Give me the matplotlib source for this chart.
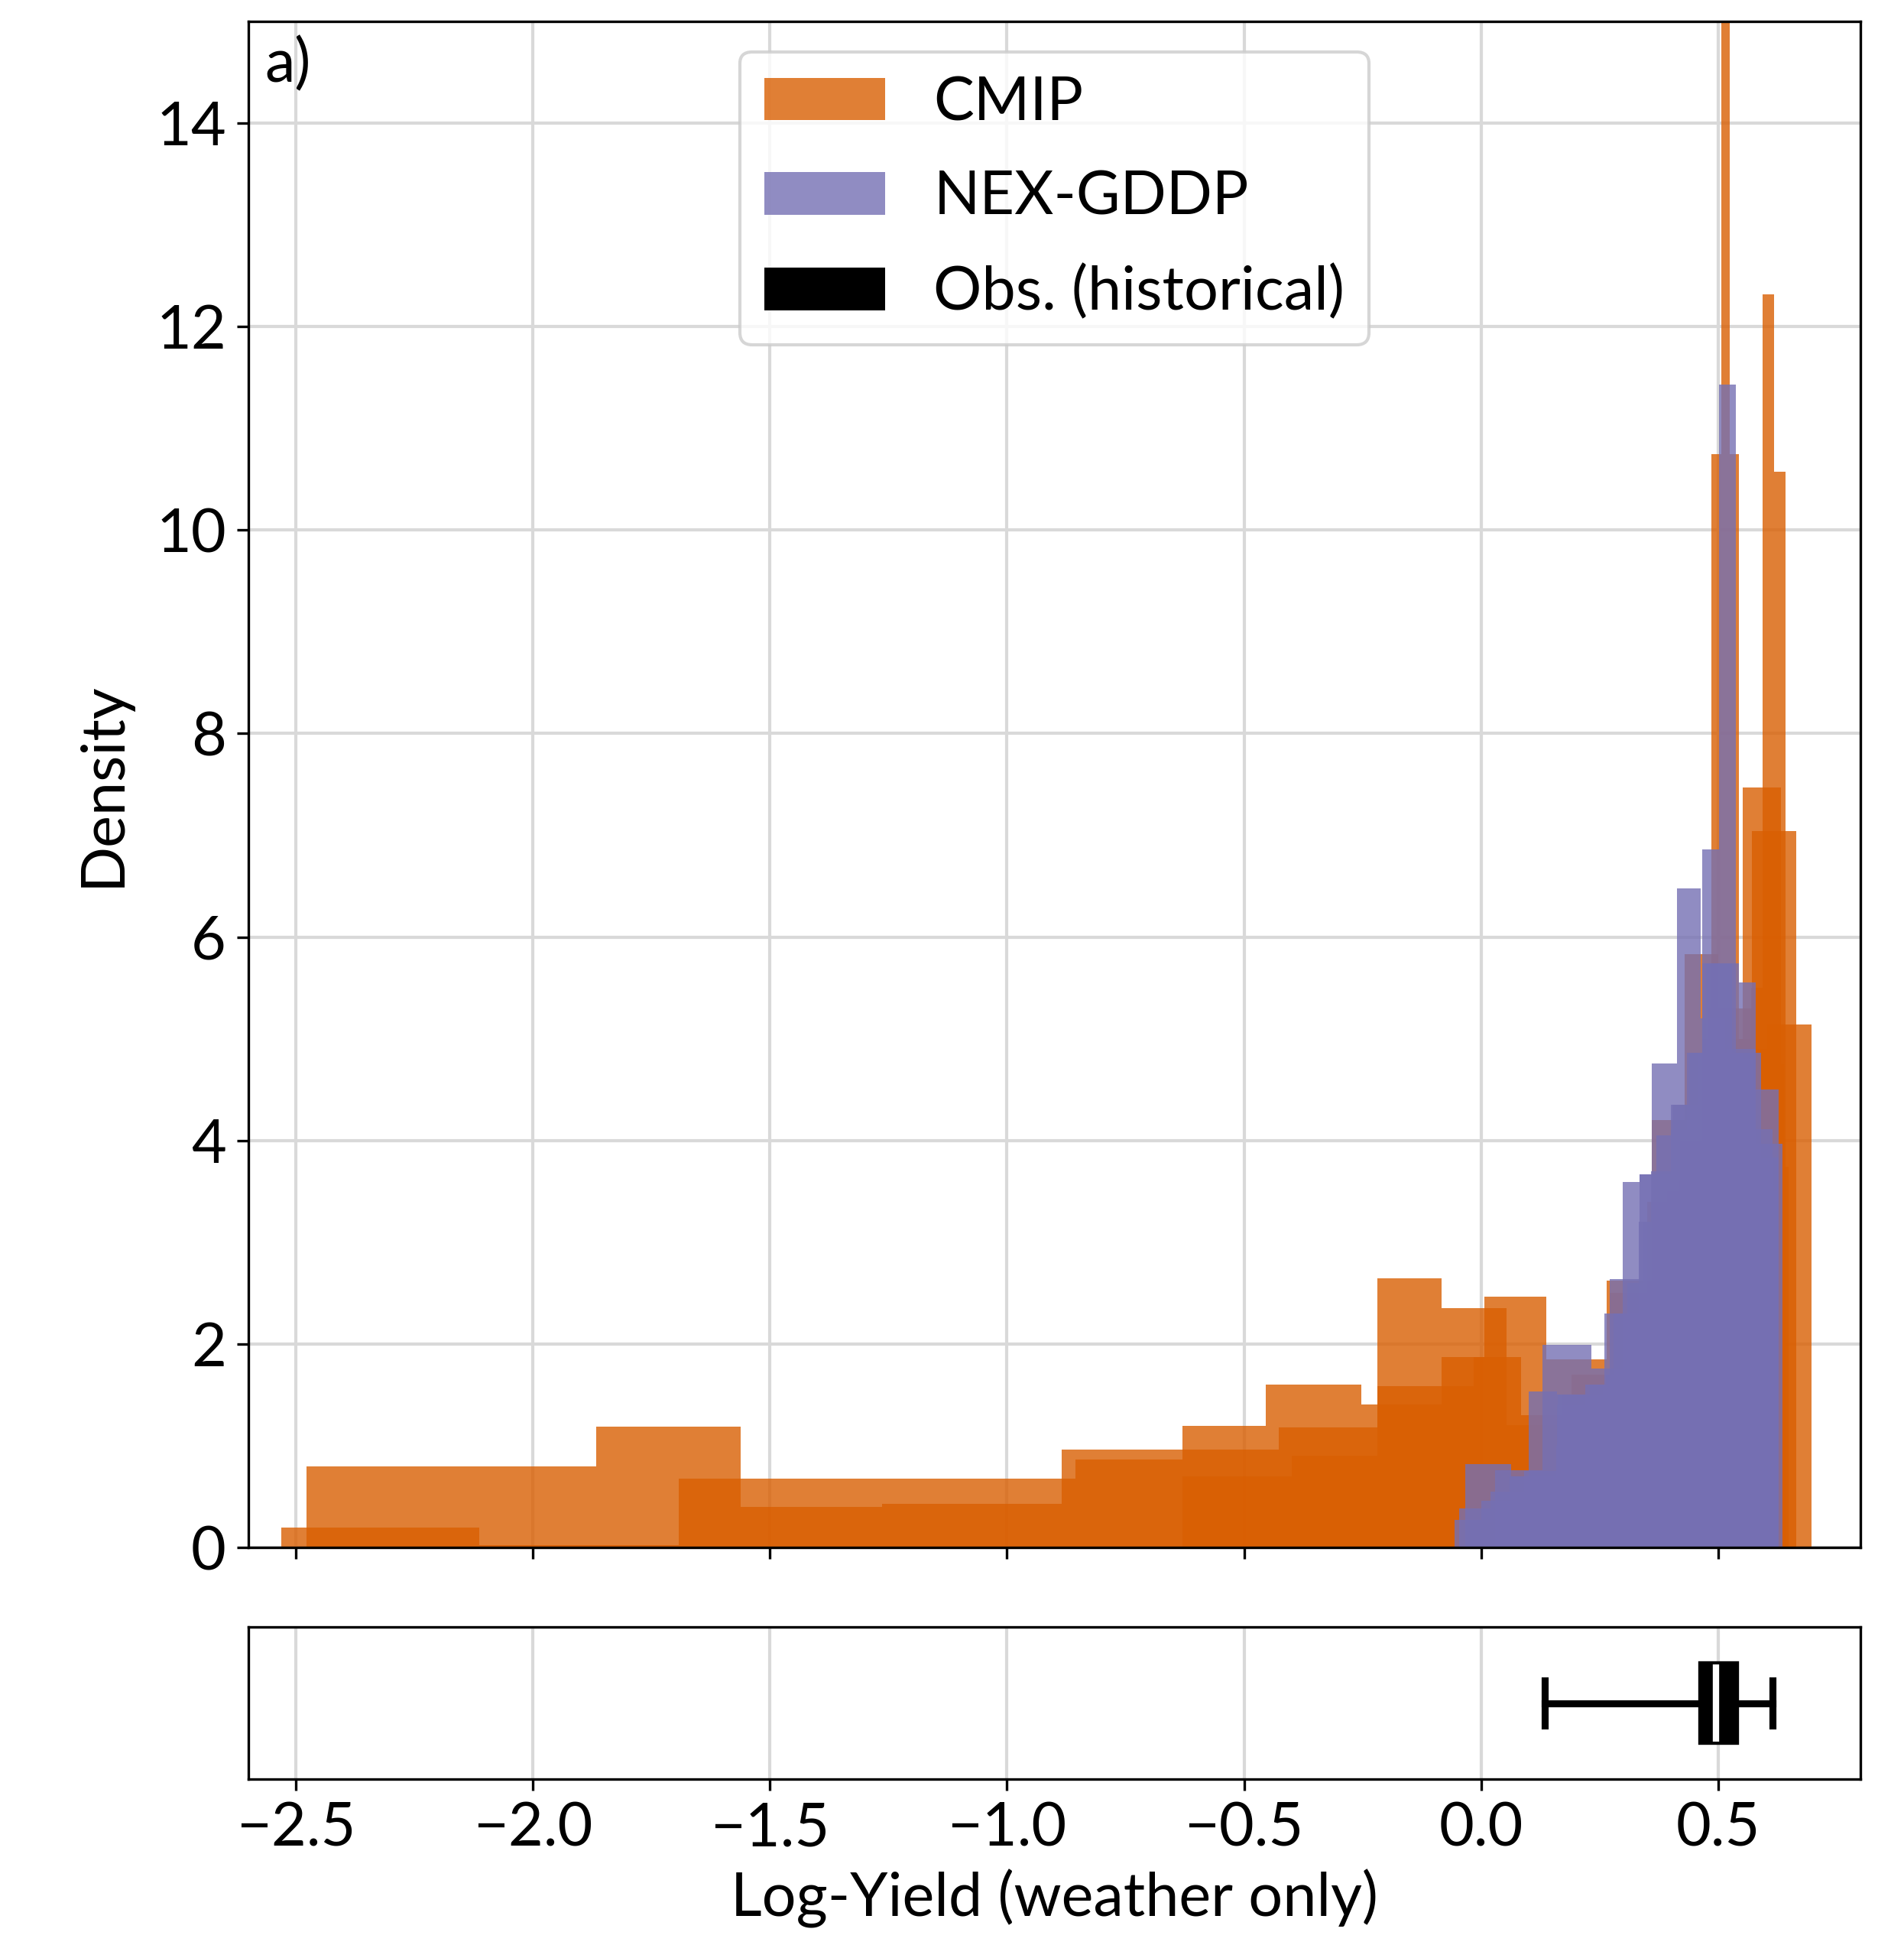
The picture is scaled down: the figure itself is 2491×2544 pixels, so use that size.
import matplotlib.pyplot as plt
from matplotlib.patches import Patch
import numpy as np

plt.rcParams['font.family'] = ['Lato', 'DejaVu Sans']
plt.rcParams['font.size'] = 19

# histogram of each CMIP model (bin edges, density per bin)
cmip_edges = [
    [-2.478, -1.867, -1.562, -1.263, -0.885, -0.630, -0.455, -0.253, -0.083, 0.054, 0.17, 0.28, 0.37, 0.45, 0.52, 0.59, 0.649],
    [-2.531, -2.113, -1.693, -0.856, -0.630, -0.427, -0.219, -0.015, 0.085, 0.19, 0.272, 0.35, 0.42, 0.48, 0.54, 0.591, 0.639],
    [-0.63, -0.40, -0.219, -0.083, 0.007, 0.138, 0.265, 0.36, 0.43, 0.50, 0.57, 0.632],
    [0.448, 0.467, 0.486, 0.506, 0.525, 0.544, 0.563],
    [0.474, 0.498, 0.522, 0.546, 0.570, 0.594, 0.618, 0.642],
    [0.232, 0.312, 0.392, 0.472, 0.552, 0.632],
    [0.195, 0.289, 0.383, 0.477, 0.571, 0.665],
    [0.139, 0.232, 0.325, 0.418, 0.511, 0.604, 0.697],
]
cmip_heights = [
    [0.797, 1.187, 0.398, 0.43, 0.962, 1.195, 1.60, 1.405, 2.354, 1.2, 1.5, 2.2, 3.0, 3.6, 3.9, 3.745],
    [0.195, 0.02, 0.676, 0.864, 0.962, 1.18, 1.585, 1.87, 1.3, 1.7, 2.5, 3.4, 4.0, 4.4, 4.6, 4.75],
    [0.7, 0.9, 2.647, 1.87, 2.465, 1.85, 2.62, 4.2, 5.83, 5.0, 2.0],
    [2.5, 5.0, 10.75, 17.5, 10.75, 4.5],
    [0.6, 1.5, 3.5, 5.0, 5.5, 12.32, 10.57],
    [1.2, 2.0, 3.5, 5.0, 7.47],
    [0.8, 1.8, 3.2, 5.3, 7.04],
    [0.9, 1.4, 2.3, 3.6, 4.9, 5.14],
]

# histogram of each NEX-GDDP model
nex_edges = [
    [0.397, 0.432, 0.467, 0.502, 0.537, 0.572, 0.607],
    [0.206, 0.257, 0.308, 0.360, 0.413, 0.463, 0.515, 0.567, 0.619],
    [0.089, 0.124, 0.159, 0.194, 0.229, 0.264, 0.299, 0.334, 0.369, 0.404, 0.439, 0.474, 0.509, 0.544, 0.579, 0.614],
    [0.029, 0.130, 0.232, 0.333, 0.434, 0.535, 0.636],
    [-0.034, 0.064, 0.162, 0.26, 0.358, 0.456, 0.554, 0.627],
    [-0.056, 0.001, 0.06, 0.101, 0.16, 0.22, 0.28, 0.34, 0.40, 0.46, 0.52, 0.58, 0.627],
    [-0.047, 0.02, 0.09, 0.16, 0.272, 0.334, 0.40, 0.467, 0.53, 0.59, 0.625],
]
nex_heights = [
    [1.5, 3.5, 6.86, 11.43, 4.8, 1.5],
    [0.8, 1.6, 2.6, 4.76, 6.48, 5.2, 3.5, 1.2],
    [0.3, 0.6, 1.0, 1.4, 1.6, 1.7, 3.59, 3.67, 4.05, 4.35, 4.86, 5.74, 5.74, 5.55, 4.11],
    [0.76, 1.99, 1.76, 3.2, 4.86, 3.97],
    [0.82, 0.7, 1.5, 2.3, 3.7, 4.86, 4.50],
    [0.27, 0.46, 0.7, 1.53, 1.4, 1.6, 2.3, 3.2, 4.1, 4.8, 4.9, 3.83],
    [0.38, 0.55, 0.75, 1.5, 2.64, 3.67, 4.35, 5.74, 4.86, 3.5],
]

# observed (historical) box summary
obs_stats = {"whislo": 0.135, "q1": 0.465, "med": 0.495, "q3": 0.538, "whishi": 0.615}

cmip_color = "#d95f02"
nex_color = "#7570b3"
alpha = 0.8

fig = plt.figure(figsize=(2491 / 300, 2544 / 300), dpi=300)
ax = fig.add_axes([0.1305, 0.2044, 0.8466, 0.7846])
ax2 = fig.add_axes([0.1305, 0.0853, 0.8466, 0.0782])

for edges, heights in zip(cmip_edges, cmip_heights):
    edges = np.array(edges)
    ax.bar(edges[:-1], heights, width=np.diff(edges), align="edge",
           color=cmip_color, alpha=alpha, linewidth=0)
for edges, heights in zip(nex_edges, nex_heights):
    edges = np.array(edges)
    ax.bar(edges[:-1], heights, width=np.diff(edges), align="edge",
           color=nex_color, alpha=alpha, linewidth=0)

grid_kw = dict(color="#d9d9d9", linewidth=1.0)
ax.set_axisbelow(True)
ax.grid(True, **grid_kw)
ax.set_xlim(-2.6, 0.8)
ax.set_ylim(0, 15)
ax.set_xticks(np.arange(-2.5, 0.51, 0.5))
ax.set_yticks(np.arange(0, 15, 2))
ax.tick_params(labelbottom=False)
ax.set_ylabel("Density", labelpad=8)
ax.text(0.01, 0.99, "a)", transform=ax.transAxes, ha="left", va="top")

handles = [
    Patch(facecolor=cmip_color, alpha=alpha, label="CMIP"),
    Patch(facecolor=nex_color, alpha=alpha, label="NEX-GDDP"),
    Patch(facecolor="black", label="Obs. (historical)"),
]
ax.legend(handles=handles, loc="upper center", labelspacing=0.65)

ax2.bxp([obs_stats], positions=[0], widths=0.51, capwidths=0.3,
        orientation="horizontal", patch_artist=True, showfliers=False,
        boxprops=dict(facecolor="black", edgecolor="black", linewidth=2),
        whiskerprops=dict(color="black", linewidth=2.2),
        capprops=dict(color="black", linewidth=2.2),
        medianprops=dict(color="white", linewidth=2))
ax2.set_axisbelow(True)
ax2.grid(True, axis="x", **grid_kw)
ax2.set_xlim(-2.6, 0.8)
ax2.set_ylim(-0.5, 0.5)
ax2.set_xticks(np.arange(-2.5, 0.51, 0.5))
ax2.set_yticks([])
ax2.set_xlabel("Log-Yield (weather only)")

fig.savefig("out.png", dpi=300)
